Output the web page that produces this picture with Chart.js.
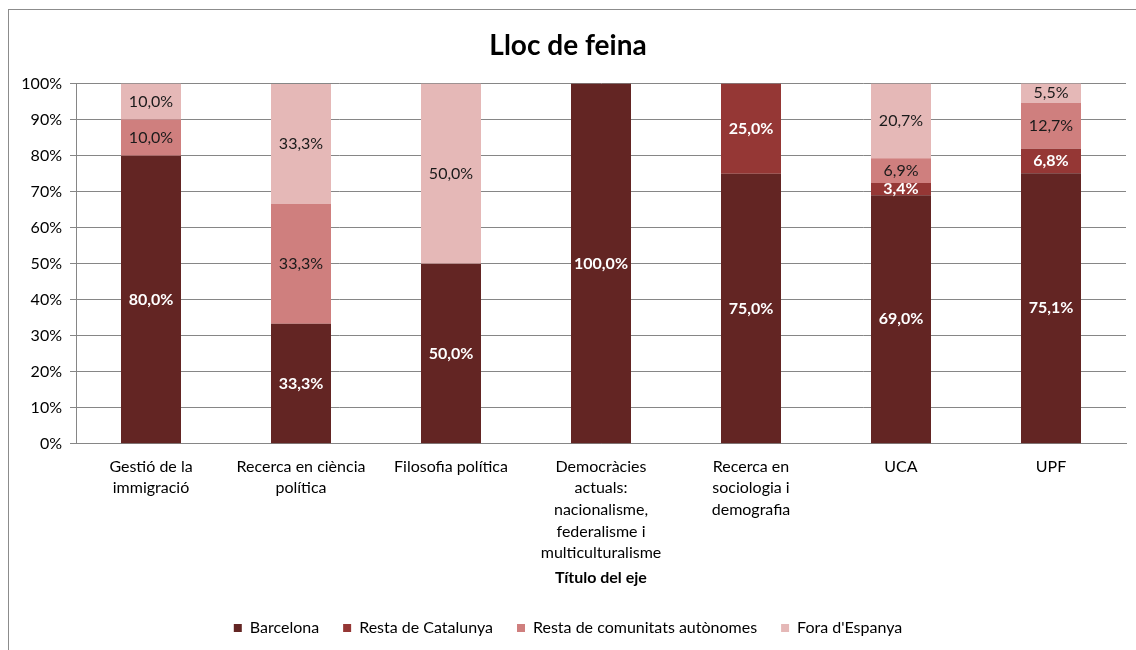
<!DOCTYPE html>
<html>
<head>
<meta charset="utf-8">
<script src="https://cdn.jsdelivr.net/npm/chart.js@4"></script>
<style>
  html, body { margin: 0; padding: 0; background: #fff; }
  #wrap { width: 1136px; height: 650px; position: relative; }
</style>
</head>
<body>
<div id="wrap"><canvas id="llocChart" width="1136" height="650"></canvas></div>
<script>
var categories = [
    ['Gestió de la', 'immigració'],
    ['Recerca en ciència', 'política'],
    ['Filosofia política'],
    ['Democràcies', 'actuals:', 'nacionalisme,', 'federalisme i', 'multiculturalisme'],
    ['Recerca en', 'sociologia i', 'demografia'],
    ['UCA'],
    ['UPF']
];
var barcelona = [80.0, 33.3, 50.0, 100.0, 75.0, 69.0, 75.1];
var restaCatalunya = [0, 0, 0, 0, 25.0, 3.4, 6.8];
var restaComunitats = [10.0, 33.3, 0, 0, 0, 6.9, 12.7];
var foraEspanya = [10.0, 33.3, 50.0, 0, 0, 20.7, 5.5];

var fontFamily = 'Lato, "Open Sans", sans-serif';

// labels inside each bar segment
var segmentLabels = {
    id: 'segmentLabels',
    afterDatasetsDraw: function (chart) {
        var ctx = chart.ctx;
        ctx.save();
        ctx.textAlign = 'center';
        ctx.textBaseline = 'middle';
        chart.data.datasets.forEach(function (ds, i) {
            var meta = chart.getDatasetMeta(i);
            meta.data.forEach(function (bar, j) {
                var v = ds.data[j];
                if (!v) return;
                var light = i >= 2;
                ctx.fillStyle = light ? '#1a1a1a' : '#ffffff';
                ctx.font = (light ? '' : 'bold ') + '16px ' + fontFamily;
                var y = (bar.y + bar.base) / 2;
                ctx.fillText(v.toFixed(1).replace('.', ',') + '%', bar.x, y);
            });
        });
        ctx.restore();
    }
};

var frame = {
    id: 'frame',
    beforeDraw: function (chart) {
        var ctx = chart.ctx;
        ctx.save();
        ctx.fillStyle = '#fff';
        ctx.fillRect(0, 0, chart.width, chart.height);
        ctx.strokeStyle = '#8c8c8c';
        ctx.lineWidth = 1;
        ctx.strokeRect(8.5, 9.5, 1200, 700);
        ctx.restore();
    }
};

var ctx = document.getElementById('llocChart').getContext('2d');
var chart = new Chart(ctx, {
    type: 'bar',
    data: {
        labels: categories,
        datasets: [
            { label: 'Barcelona', data: barcelona, backgroundColor: '#632523' },
            { label: 'Resta de Catalunya', data: restaCatalunya, backgroundColor: '#953735' },
            { label: 'Resta de comunitats autònomes', data: restaComunitats, backgroundColor: '#cf7f7e' },
            { label: "Fora d'Espanya", data: foraEspanya, backgroundColor: '#e5b8b7' }
        ]
    },
    plugins: [frame, segmentLabels],
    options: {
        responsive: false,
        animation: false,
        layout: { padding: { left: 10, right: 10, top: 8, bottom: 4 } },
        datasets: { bar: { categoryPercentage: 1, barPercentage: 0.4 } },
        plugins: {
            title: {
                display: true,
                text: 'Lloc de feina',
                color: '#000',
                font: { family: fontFamily, size: 28, weight: 'bold' },
                padding: { top: 21, bottom: 21 }
            },
            legend: {
                position: 'bottom',
                labels: {
                    color: '#000',
                    font: { family: fontFamily, size: 16 },
                    boxWidth: 8,
                    boxHeight: 8,
                    padding: 24
                }
            },
            tooltip: { enabled: false }
        },
        scales: {
            x: {
                stacked: true,
                grid: { display: false },
                border: { color: '#868686' },
                ticks: {
                    color: '#000',
                    font: { family: fontFamily, size: 16, lineHeight: 1.35 },
                    maxRotation: 0,
                    autoSkip: false,
                    padding: 4
                },
                title: {
                    display: true,
                    text: 'Título del eje',
                    color: '#000',
                    font: { family: fontFamily, size: 16, weight: 'bold' },
                    padding: { top: 0, bottom: 9 }
                }
            },
            y: {
                stacked: true,
                min: 0,
                max: 100,
                afterFit: function (scale) { scale.width = 66; },
                grid: { color: '#868686', tickLength: 6 },
                border: { color: '#868686' },
                ticks: {
                    stepSize: 10,
                    color: '#000',
                    font: { family: fontFamily, size: 16 },
                    padding: 8,
                    callback: function (v) { return v + '%'; }
                }
            }
        }
    }
});
</script>
</body>
</html>
